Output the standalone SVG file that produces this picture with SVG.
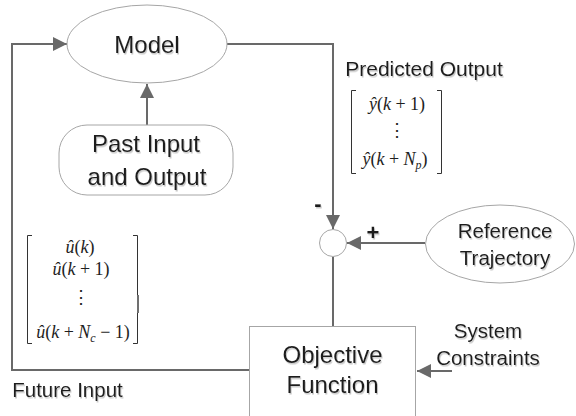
<svg xmlns="http://www.w3.org/2000/svg" width="576" height="416" viewBox="0 0 576 416">
  <defs>
    <style>
      .node { fill: #ffffff; stroke: #a6a6a6; stroke-width: 1; }
      .wire { fill: none; stroke: #696969; stroke-width: 2; }
      .lbl { font-family: "Liberation Sans", Arial, sans-serif; fill: #1e1e1e; text-anchor: middle; filter: url(#soft); }
      .math { font-family: "Liberation Serif", "Times New Roman", serif; font-style: italic; fill: #1e1e1e; text-anchor: middle; font-size: 18px; }
      .up { font-style: normal; }
      .brk { fill: none; stroke: #333333; stroke-width: 1; }
    </style>
    <filter id="soft" x="-10%" y="-20%" width="130%" height="150%">
      <feDropShadow dx="1" dy="1.5" stdDeviation="0.6" flood-color="#9a9a9a" flood-opacity="0.55"/>
    </filter>
    <marker id="arr" viewBox="0 0 14 14" refX="14" refY="7" markerWidth="14" markerHeight="14" markerUnits="userSpaceOnUse" orient="auto">
      <path d="M0,0 L14,7 L0,14 Z" fill="#696969"/>
    </marker>
  </defs>

  <!-- connectors -->
  <g id="connectors">
    <!-- feedback of the future input back into the model -->
    <path class="wire" d="M250,370 H12 V44 H67" marker-end="url(#arr)"/>
    <!-- past data into the model -->
    <path class="wire" d="M147,125 V84" marker-end="url(#arr)"/>
    <!-- predicted output down to the summing junction -->
    <path class="wire" d="M227,44 H333 V229" marker-end="url(#arr)"/>
    <!-- reference into the junction -->
    <path class="wire" d="M425,243 H347" marker-end="url(#arr)"/>
    <!-- junction to objective -->
    <path class="wire" d="M333,257 V326"/>
    <!-- constraints into the objective -->
    <path class="wire" d="M452,371 H417" marker-end="url(#arr)"/>
  </g>

  <!-- sign labels at the junction -->
  <text class="lbl" x="318" y="211" font-size="22" font-weight="bold">-</text>
  <text class="lbl" x="373" y="240" font-size="22" font-weight="bold">+</text>

  <g id="model">
    <ellipse class="node" cx="147" cy="44" rx="80" ry="39"/>
    <text class="lbl" x="147" y="53" font-size="24">Model</text>
  </g>

  <g id="past-io">
    <rect class="node" x="59" y="125" width="174" height="70" rx="28" ry="28"/>
    <text class="lbl" x="146" y="152" font-size="24">Past Input</text>
    <text class="lbl" x="147" y="185" font-size="24">and Output</text>
  </g>

  <g id="junction">
    <circle class="node" cx="333" cy="243" r="13.5"/>
  </g>

  <g id="reference">
    <ellipse class="node" cx="500" cy="244" rx="74.5" ry="39"/>
    <text class="lbl" x="505" y="238" font-size="20.5">Reference</text>
    <text class="lbl" x="505" y="265" font-size="20.5">Trajectory</text>
  </g>

  <g id="objective">
    <rect class="node" x="249.5" y="326.5" width="166" height="100"/>
    <text class="lbl" x="332.5" y="363" font-size="24">Objective</text>
    <text class="lbl" x="332.5" y="393" font-size="24">Function</text>
  </g>

  <g id="constraints">
    <text class="lbl" x="488" y="338" font-size="20.5">System</text>
    <text class="lbl" x="488" y="365" font-size="20.5">Constraints</text>
  </g>

  <g id="predicted-output">
    <text class="lbl" x="424" y="76" font-size="21">Predicted Output</text>
    <path class="brk" d="M356,90.5 H351.5 V173.5 H356 M437,90.5 H441.5 V173.5 H437"/>
    <text class="math" x="397" y="110">ŷ<tspan class="up">(</tspan>k<tspan class="up"> + 1)</tspan></text>
    <text class="math" x="397" y="136" font-size="16"><tspan class="up">⋮</tspan></text>
    <text class="math" x="395" y="165">ŷ<tspan class="up">(</tspan>k<tspan class="up"> + </tspan>N<tspan font-size="12" dy="4">p</tspan><tspan class="up" dy="-4">)</tspan></text>
  </g>

  <g id="future-input">
    <path class="brk" d="M32,235.5 H27.5 V343.5 H32 M133,235.5 H137.5 V343.5 H133"/>
    <rect x="137" y="295" width="2" height="18" fill="#707070"/>
    <text class="math" x="80" y="253">û<tspan class="up">(</tspan>k<tspan class="up">)</tspan></text>
    <text class="math" x="81" y="275">û<tspan class="up">(</tspan>k<tspan class="up"> + 1)</tspan></text>
    <text class="math" x="81" y="303" font-size="16"><tspan class="up">⋮</tspan></text>
    <text class="math" x="83" y="338">û<tspan class="up">(</tspan>k<tspan class="up"> + </tspan>N<tspan font-size="12" dy="4">c</tspan><tspan class="up" dy="-4"> − 1)</tspan></text>
    <text class="lbl" x="67.5" y="397" font-size="20.5">Future Input</text>
  </g>
</svg>
